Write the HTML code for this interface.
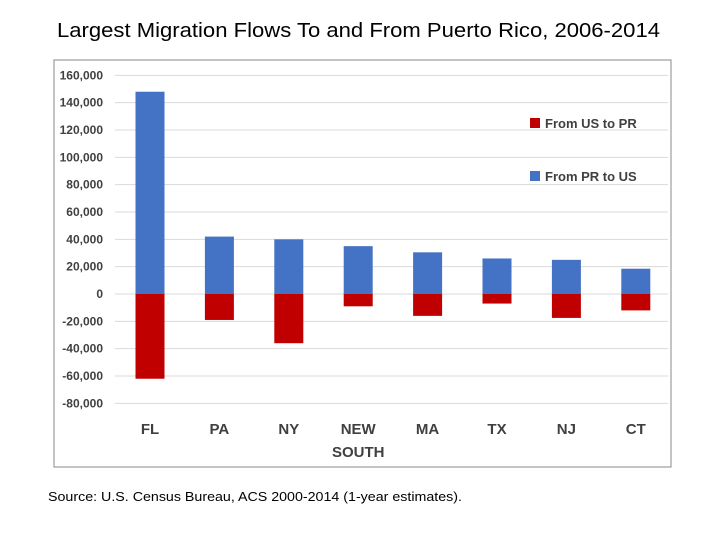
<!DOCTYPE html>
<html><head><meta charset="utf-8"><style>
body{margin:0;background:#fff;width:720px;height:540px;overflow:hidden;font-family:"Liberation Sans",sans-serif}
</style></head><body>
<svg width="720" height="540" xmlns="http://www.w3.org/2000/svg">
<text x="57" y="37" font-size="20" fill="#000" textLength="603" lengthAdjust="spacingAndGlyphs">Largest Migration Flows To and From Puerto Rico, 2006-2014</text>
<rect x="54" y="60" width="617" height="407" fill="#fff" stroke="#888" stroke-width="1"/>
<g id="grid"></g><g id="bars"></g><g id="labels"></g>
<rect x="530" y="118" width="10" height="10" fill="#C00000"/>
<text x="545" y="128" font-size="13" font-weight="bold" fill="#404040">From US to PR</text>
<rect x="530" y="171" width="10" height="10" fill="#4472C4"/>
<text x="545" y="181" font-size="13" font-weight="bold" fill="#404040">From PR to US</text>
<text x="48" y="501" font-size="13" fill="#000" textLength="414" lengthAdjust="spacingAndGlyphs">Source: U.S. Census Bureau,  ACS 2000-2014 (1-year estimates).</text>
</svg>
<script>
const categories=["FL","PA","NY","NEW SOUTH","MA","TX","NJ","CT"];
const prToUs=[148000,42000,40000,35000,30500,26000,25000,18500];
const usToPr=[-62000,-19000,-36000,-9000,-16000,-7000,-17500,-12000];
const yTicks=[160000,140000,120000,100000,80000,60000,40000,20000,0,-20000,-40000,-60000,-80000];
const NS="http://www.w3.org/2000/svg";
const y0=294, pxPer=(403-75)/240000;
function y(v){return y0-v*pxPer;}
function x(i){return 150+i*69.4;}
const grid=document.getElementById('grid'),bars=document.getElementById('bars'),labels=document.getElementById('labels');
function mk(tag,attrs,parent){const e=document.createElementNS(NS,tag);for(const k in attrs)e.setAttribute(k,attrs[k]);parent.appendChild(e);return e;}
yTicks.forEach(t=>{
  const l=mk('line',{x1:115,x2:668,y1:y(t),y2:y(t),stroke:'#d9d9d9','stroke-width':1},grid);
  
  
  const tx=mk('text',{x:103,y:y(t)+4,'text-anchor':'end','font-size':12,'font-weight':'bold',fill:'#404040'},labels);
  tx.textContent=t.toLocaleString('en-US');
  
  
});
const bw=29;
categories.forEach((c,i)=>{
  const b=mk('rect',{x:x(i)-bw/2,y:y(prToUs[i]),width:bw,height:y(0)-y(prToUs[i]),fill:'#4472C4'},bars);
  
  
  const r=mk('rect',{x:x(i)-bw/2,y:y(0),width:bw,height:y(usToPr[i])-y(0),fill:'#C00000'},bars);
  
  
  const parts=c.split(' ');
  parts.forEach((p,j)=>{
    const t=mk('text',{x:x(i),y:434+j*23,'text-anchor':'middle','font-size':15,'font-weight':'bold',fill:'#404040'},labels);
    t.textContent=p;
    
    
  });
});
</script>
</body></html>
